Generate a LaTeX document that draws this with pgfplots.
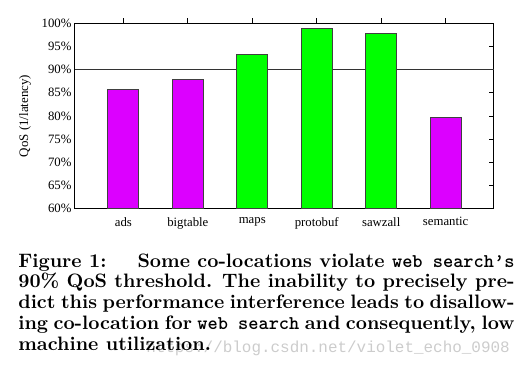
\documentclass[border=0pt]{standalone}
\usepackage{fontspec}
\usepackage{pgfplots}
\pgfplotsset{compat=1.18}
\newfontfamily\timesfont{Liberation Serif}
\newfontfamily\wmfont{Liberation Mono}
\definecolor{bmag}{RGB}{220,0,255}
\definecolor{bgreen}{RGB}{0,255,0}
\begin{document}
\begin{tikzpicture}
\path[use as bounding box] (-75bp,-160.3bp) rectangle (447bp,208.7bp);
\begin{axis}[
  at={(0,0)}, anchor=south west,
  scale only axis, width=419bp, height=185.4bp,
  xmin=-0.75, xmax=5.75, ymin=60, ymax=100,
  xtick={0,...,5}, xticklabels={ads,bigtable,maps,protobuf,sawzall,semantic},
  ytick={60,65,...,100}, yticklabels={60\%,65\%,70\%,75\%,80\%,85\%,90\%,95\%,100\%},
  xtick pos=top, xticklabel pos=bottom,
  ytick pos=right, yticklabel pos=left,
  major tick length=5bp, tick align=inside,
  tick style={black, line width=0.8bp},
  axis line style={line width=1bp},
  tick label style={font=\timesfont\fontsize{12.8}{14}\selectfont},
  ylabel={QoS (1/latency)},
  ylabel style={font=\timesfont\fontsize{13}{14}\selectfont, at={(axis description cs:-0.1193,0.5)}, anchor=center},
  ybar, bar width=31bp, bar shift=0pt,
]
\addplot[sharp plot, black!80, line width=1bp, mark=none, forget plot] coordinates {(-0.75,90) (5.75,90)};
\addplot[fill=bmag, draw=black!75, line width=1bp] coordinates {(0,85.8) (1,87.9) (5,79.6)};
\addplot[fill=bgreen, draw=black!75, line width=1bp] coordinates {(2,93.3) (3,98.9) (4,97.8)};
\end{axis}
\node[anchor=base east, inner sep=0, text=black!20, font=\wmfont\fontsize{16}{18}\selectfont] at (435bp,-143.3bp) {https://blog.csdn.net/violet\_echo\_0908};
\node[anchor=base west, inner sep=0, scale=1.95, transform shape] at (-57bp,-58.3bp) {\parbox[t]{254.4bp}{\setlength\parindent{0pt}\fontsize{10}{10.77}\selectfont\bfseries
\makebox[\linewidth][s]{Figure 1:\hfill Some co-locations violate \texttt{web search\textquoteright s}}\par
\makebox[\linewidth][s]{90\% QoS threshold. The inability to precisely pre-}\par
\makebox[\linewidth][s]{dict this performance interference leads to disallow-}\par
\makebox[\linewidth][s]{ing co-location for \texttt{web search} and consequently, low}\par
machine utilization.}};
\end{tikzpicture}
\end{document}
